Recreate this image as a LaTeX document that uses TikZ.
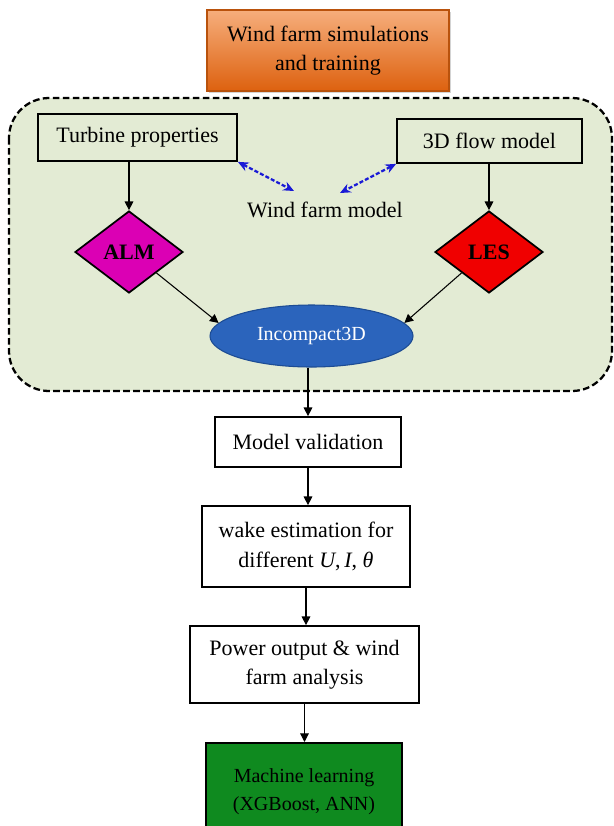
\documentclass[tikz,border=0pt]{standalone}
\usepackage{fontspec}
\setmainfont{Liberation Serif}
\usetikzlibrary{shapes.geometric,arrows.meta,shadows}
\definecolor{panel}{HTML}{E3EBD4}
\definecolor{orangetop}{HTML}{F6AE7C}
\definecolor{orangebot}{HTML}{DD610F}
\definecolor{orangeedge}{HTML}{B9520C}
\definecolor{almfill}{HTML}{DB00B4}
\definecolor{lesfill}{HTML}{F00000}
\definecolor{incfill}{HTML}{2B64BC}
\definecolor{incedge}{HTML}{1D4C94}
\definecolor{mlfill}{HTML}{0F8A1F}
\definecolor{arrowblue}{HTML}{1A1AD6}
\begin{document}
\begin{tikzpicture}[x=0.75pt,y=-0.75pt,
  txt/.style={font=\fontsize{16.5}{22}\selectfont},
  box/.style={txt, draw=black, line width=1.3pt, align=center, inner sep=0pt},
  frame/.style={draw=black, fill=panel, line width=1.7pt, dash pattern=on 5pt off 2.5pt, rounded corners=30pt},
  dia/.style={diamond, draw=black, line width=1.3pt, inner sep=0pt, minimum width=81pt, minimum height=61.5pt, txt},
  arr/.style={-{Triangle[length=6.5pt,width=6.5pt]}, line width=0.8pt, draw=black},
  barr/.style={{Stealth[length=8pt,width=7pt]}-{Stealth[length=8pt,width=7pt]}, dash pattern=on 3pt off 1.6pt, line width=1.7pt, draw=arrowblue}
]
\useasboundingbox (0,0) rectangle (614,826);

% top title box
\node[box, draw=orangeedge, line width=0.8pt, top color=orangetop, bottom color=orangebot,
      drop shadow={opacity=0.35, shadow xshift=1.5pt, shadow yshift=-1.5pt},
      minimum width=181.5pt, minimum height=60.75pt] (title) at (328,50.5)
      {Wind farm simulations\\and training};

% dashed container
\draw[frame] (9,98) rectangle (612,391);

% upper nodes
\node[box, minimum width=149.25pt, minimum height=35.25pt] (tp) at (137.5,137.5) {Turbine properties};
\node[box, minimum width=138.75pt, minimum height=33pt] (fm) at (489.5,141) {3D flow model};
\node[txt, inner sep=1pt] (wfm) at (325,210) {Wind farm model};
\coordinate (wl) at (294,191);
\coordinate (wr) at (340,193);

\node[dia, fill=almfill] (alm) at (129,252) {\textbf{ALM}};
\node[dia, fill=lesfill] (les) at (489,252) {\textbf{LES}};

\node[ellipse, draw=incedge, line width=0.8pt, fill=incfill, text=white,
      minimum width=152.25pt, minimum height=46.5pt, inner sep=0pt,
      font=\fontsize{15}{19}\selectfont] (inc) at (311.5,336) {Incompact3D};

% lower chain
\node[box, minimum width=139.5pt, minimum height=37.5pt] (mv) at (308,442) {Model validation};
\node[box, minimum width=156pt, minimum height=60.75pt] (wk) at (306,546.5)
      {wake estimation for\\different \textit{U},\,\textit{I}, \textit{θ}};
\node[box, minimum width=171.75pt, minimum height=57.75pt] (pw) at (304.5,664.5)
      {Power output \& wind\\farm analysis};
\node[draw=black, line width=1.3pt, fill=mlfill, inner sep=0pt,
      minimum width=147pt, minimum height=72pt, anchor=north,
      font=\fontsize{15}{21}\selectfont] (ml) at (304,742)
      {\raisebox{7.5pt}{\begin{tabular}{@{}c@{}}Machine learning\\(XGBoost, ANN)\end{tabular}}};

% connectors
\draw[arr] (alm.north |- tp.south) -- (alm.north);
\draw[arr] (les.north |- fm.south) -- (les.north);
\draw[barr] (tp.south east) -- (wl);
\draw[barr] (fm.south west) -- (wr);
\draw[arr] (alm.south east) -- (inc.172);
\draw[arr] (les.south west) -- (inc.8);
\draw[arr] (inc.south -| mv.north) -- (mv.north);
\draw[arr] (mv.south) -- (mv.south |- wk.north);
\draw[arr] (wk.south) -- (wk.south |- pw.north);
\draw[arr] (pw.south) -- (pw.south |- ml.north);
\end{tikzpicture}
\end{document}
